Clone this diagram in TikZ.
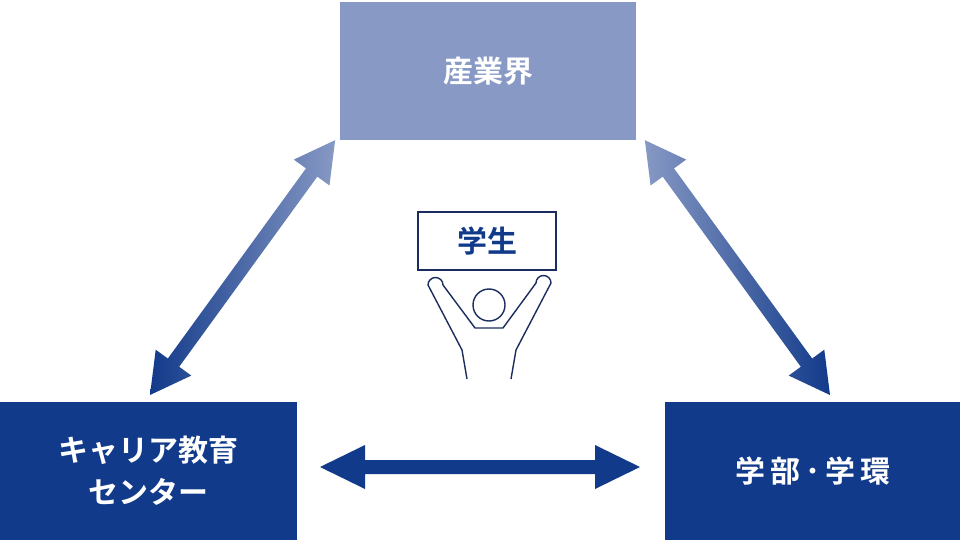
\documentclass[tikz,border=0pt]{standalone}
\usepackage{fontspec}
\newfontfamily\jp[BoldFont={Noto Sans CJK JP Bold}]{Noto Sans CJK JP}
\definecolor{navy}{HTML}{123A8A}
\definecolor{light}{HTML}{8799C4}
\definecolor{inkc}{HTML}{1B2D5E}
\begin{document}
\begin{tikzpicture}[x=1pt,y=1pt,
  box/.style={inner sep=0pt,anchor=north west,text=white,font=\jp\bfseries\fontsize{30}{42}\selectfont,align=center},
  figline/.style={draw=inkc,line width=1.4pt,line join=round}]
\useasboundingbox (0,0) rectangle (960,542);
\fill[white] (0,0) rectangle (960,542);
% boxes
\node[box,fill=light,minimum width=296pt,minimum height=138pt] (ind) at (340,540) {産業界};
\node[box,fill=navy,minimum width=297pt,minimum height=138pt] (car) at (0,140) {キャリア教育\\センター};
\node[box,fill=navy,minimum width=295pt,minimum height=138pt] (fac) at (665,140) {学\,部\,･\,学\,環};
% diagonal arrows
\begin{scope}[shift={(150,147)},rotate=54]
\shade[left color=navy,right color=light] (0,0)--(40,22)--(40,7)--(275,7)--(275,22)--(315,0)--(275,-22)--(275,-7)--(40,-7)--(40,-22)--cycle;
\end{scope}
\begin{scope}[shift={(830,147)},rotate=126]
\shade[left color=light,right color=navy] (0,0)--(40,22)--(40,7)--(275,7)--(275,22)--(315,0)--(275,-22)--(275,-7)--(40,-7)--(40,-22)--cycle;
\end{scope}
% horizontal arrow
\fill[navy] (320,75)--(365,97)--(365,82)--(595,82)--(595,97)--(640,75)--(595,53)--(595,68)--(365,68)--(365,53)--cycle;
% student sign
\node[draw=inkc,line width=1.4pt,minimum width=138pt,minimum height=58pt,inner sep=0pt,text=navy,font=\jp\bfseries\fontsize{30}{34}\selectfont] (sign) at (487,301) {学生};
\draw[figline] (489,237) circle (16);
\draw[figline] (467,163)--(462,192)--(428,257) arc[start angle=180,end angle=0,radius=7.5]--(475,214)--(503,214)--(536,259) arc[start angle=180,end angle=0,radius=7.5]--(516,192)--(511,163);
\end{tikzpicture}
\end{document}
